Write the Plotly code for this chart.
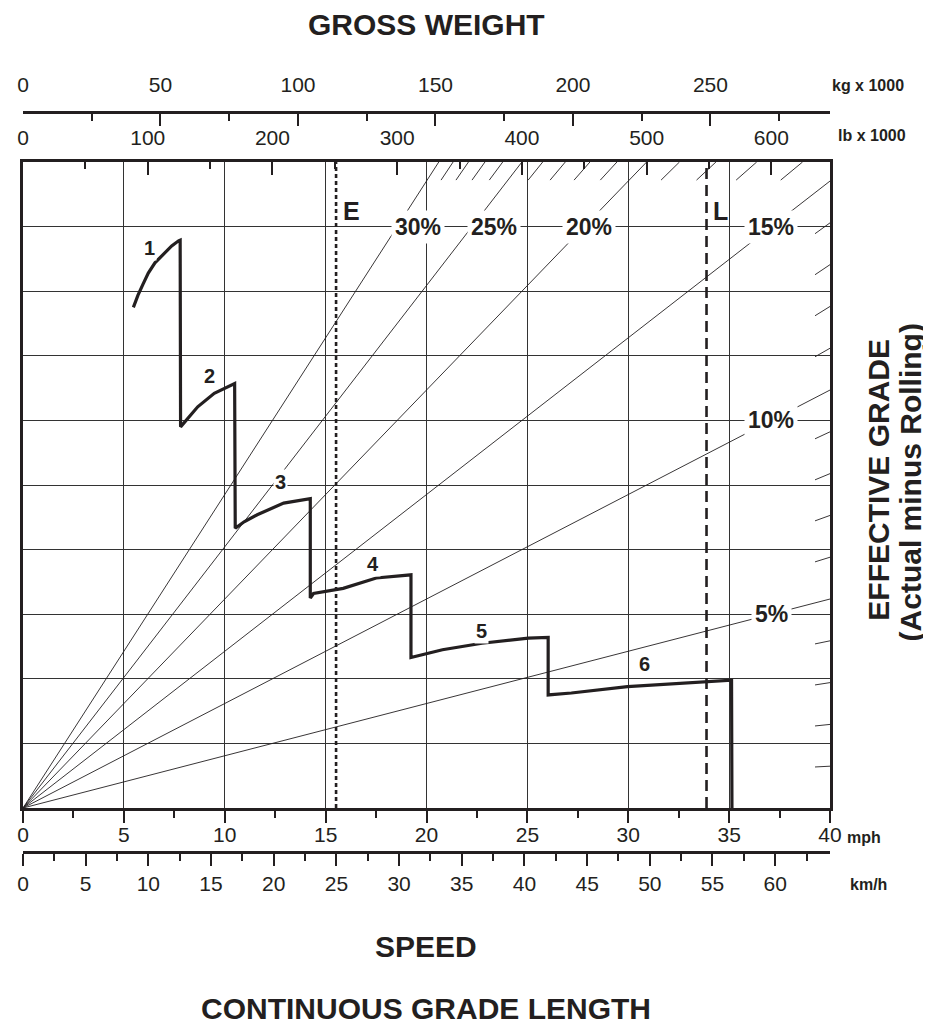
import plotly.graph_objects as go

# ------------------------------------------------------------------ data
MPH_MAX = 40
KMH_PER_MPH = 1.609344
LB_PER_KG = 2.20462
LB_MAX = 647.0            # lb x 1000 at the right edge of the frame
FORCE_MAX = 100           # retarding force scale (lb x 1000), 10 grid rows

kg_ticks = [0, 50, 100, 150, 200, 250]
lb_ticks = [0, 100, 200, 300, 400, 500, 600]
mph_ticks = [0, 5, 10, 15, 20, 25, 30, 35, 40]
kmh_ticks = [0, 5, 10, 15, 20, 25, 30, 35, 40, 45, 50, 55, 60]

grades_labeled = [5, 10, 15, 20, 25, 30]
grade_label_text = ["5%", "10%", "15%", "20%", "25%", "30%"]
grade_label_lb = [600, 600, 600, 454, 378, 317]
grade_label_force = [30, 60, 90, 90, 90, 90]
grades_minor = [1, 2, 3, 4, 6, 7, 8, 9, 11, 12, 13, 14,
                16, 17, 18, 19, 21, 22, 23, 24, 26, 27, 28, 29]

empty_lb = 251
loaded_lb = 548

gear1_mph = [5.47, 5.70, 5.95, 6.21, 6.54, 7.03, 7.37, 7.71, 7.79]
gear1_force = [77.5, 79.4, 81.1, 82.8, 84.4, 85.9, 87.0, 87.8, 87.9]
gear2_mph = [7.81, 8.26, 8.66, 9.48, 9.98, 10.47, 10.49]
gear2_force = [59.0, 60.7, 62.1, 64.2, 65.0, 65.7, 65.7]
gear3_mph = [10.52, 10.96, 11.61, 12.92, 14.24]
gear3_force = [43.3, 44.3, 45.4, 47.2, 47.9]
gear4_mph = [14.24, 14.40, 15.87, 17.51, 19.23]
gear4_force = [32.5, 33.2, 34.0, 35.6, 36.1]
gear5_mph = [19.23, 20.79, 22.75, 25.05, 26.03]
gear5_force = [23.3, 24.5, 25.5, 26.3, 26.4]
gear6_mph = [26.03, 27.18, 29.96, 35.12, 35.14]
gear6_force = [17.5, 17.8, 18.8, 19.8, 0.0]

gear_label_text = ["1", "2", "3", "4", "5", "6"]
gear_label_mph = [6.29, 9.24, 12.76, 17.35, 22.75, 30.81]
gear_label_force = [86.7, 66.8, 50.5, 37.8, 27.4, 22.3]

# ------------------------------------------------------------------ layout helpers
PAGE_OFF = 8                      # default body margin of the page
W_PX, H_PX = 923, 1016
M_L, M_R, M_T, M_B = 9, 101, 30, 60
PLOT_W = W_PX - M_L - M_R
PAPER_H = H_PX - M_T - M_B
PAPER_BOTTOM = PAGE_OFF + H_PX - M_B


def py(yy):
    """screen row -> paper fraction"""
    return (PAPER_BOTTOM - yy) / PAPER_H


def px(xx):
    """screen column -> paper fraction"""
    return (xx - PAGE_OFF - M_L) / PLOT_W


DARK = "#231f20"
TICK_FONT = dict(family="Liberation Sans, Arial, sans-serif", size=21, color=DARK)
BOLD = "Liberation Sans, Arial, Helvetica, sans-serif"

fig = go.Figure()

# grade lines (radiating from origin) on the lb axis
gx, gy = [], []
for g in grades_labeled:
    w_top = FORCE_MAX / (g / 100)
    if w_top <= LB_MAX:
        gx += [0, w_top, None]
        gy += [0, FORCE_MAX, None]
    else:
        gx += [0, LB_MAX, None]
        gy += [0, LB_MAX * g / 100, None]
fig.add_trace(go.Scatter(x=gx, y=gy, xaxis="x3", yaxis="y", mode="lines",
                         line=dict(color=DARK, width=0.9), hoverinfo="skip", showlegend=False))

# 1% hatch marks at the edges
HATCH_F = 2.8
HATCH_W = 12.0
hx, hy = [], []
for g in grades_minor:
    s = g / 100
    w_top = FORCE_MAX / s
    if w_top <= LB_MAX:
        hx += [(FORCE_MAX - HATCH_F) / s, w_top, None]
        hy += [FORCE_MAX - HATCH_F, FORCE_MAX, None]
    else:
        hx += [LB_MAX - HATCH_W, LB_MAX, None]
        hy += [(LB_MAX - HATCH_W) * s, LB_MAX * s, None]
fig.add_trace(go.Scatter(x=hx, y=hy, xaxis="x3", yaxis="y", mode="lines",
                         line=dict(color=DARK, width=0.9), hoverinfo="skip", showlegend=False))

# empty / loaded weight lines
fig.add_trace(go.Scatter(x=[empty_lb, empty_lb], y=[0, FORCE_MAX], xaxis="x3", yaxis="y",
                         mode="lines", line=dict(color=DARK, width=2.6, dash="4px,3px"),
                         hoverinfo="skip", showlegend=False))
fig.add_trace(go.Scatter(x=[loaded_lb, loaded_lb], y=[0, FORCE_MAX], xaxis="x3", yaxis="y",
                         mode="lines", line=dict(color=DARK, width=2.6, dash="11px,6px"),
                         hoverinfo="skip", showlegend=False))

# retarder curve
cx = gear1_mph + gear2_mph + gear3_mph + gear4_mph + gear5_mph + gear6_mph
cy = gear1_force + gear2_force + gear3_force + gear4_force + gear5_force + gear6_force
fig.add_trace(go.Scatter(x=cx, y=cy, xaxis="x", yaxis="y", mode="lines",
                         line=dict(color=DARK, width=3.2), hoverinfo="skip", showlegend=False))

# invisible traces so that the secondary scales (km/h, kg) are drawn
fig.add_trace(go.Scatter(x=[0, MPH_MAX * KMH_PER_MPH], y=[0, 0], xaxis="x2", yaxis="y",
                         mode="markers", marker=dict(opacity=0), hoverinfo="skip", showlegend=False))
fig.add_trace(go.Scatter(x=[0, LB_MAX / LB_PER_KG], y=[0, 0], xaxis="x4", yaxis="y",
                         mode="markers", marker=dict(opacity=0), hoverinfo="skip", showlegend=False))

ann = []
for t, w, f in zip(grade_label_text, grade_label_lb, grade_label_force):
    ann.append(dict(x=w, y=f, xref="x3", yref="y", text="<b>%s</b>" % t, showarrow=False,
                    xanchor="center", yanchor="middle",
                    font=dict(family=BOLD, size=23, color=DARK), bgcolor="white", borderpad=3))
for t, m, f in zip(gear_label_text, gear_label_mph, gear_label_force):
    ann.append(dict(x=m, y=f, xref="x", yref="y", text="<b>%s</b>" % t, showarrow=False,
                    xanchor="center", yanchor="middle",
                    font=dict(family=BOLD, size=20, color=DARK), bgcolor="white", borderpad=1))
ann.append(dict(x=empty_lb, y=92.4, xref="x3", yref="y", text="<b>E</b>", showarrow=False,
                xanchor="left", yanchor="middle", xshift=5, font=dict(family=BOLD, size=25, color=DARK)))
ann.append(dict(x=loaded_lb, y=92.4, xref="x3", yref="y", text="<b>L</b>", showarrow=False,
                xanchor="left", yanchor="middle", xshift=4, font=dict(family=BOLD, size=25, color=DARK)))

# unit labels
for txt, xx, yy in [("kg x 1000", 830, 85), ("lb x 1000", 836, 135),
                    ("mph", 845, 837), ("km/h", 848, 884)]:
    ann.append(dict(x=px(xx), y=py(yy), xref="paper", yref="paper", text="<b>%s</b>" % txt,
                    showarrow=False, xanchor="left", yanchor="middle",
                    font=dict(family=BOLD, size=16, color=DARK)))

# titles
for txt, xx, yy, ang in [("GROSS WEIGHT", 423, 24, 0), ("SPEED", 423, 946, 0),
                         ("CONTINUOUS GRADE LENGTH", 423, 1009, 0),
                         ("EFFECTIVE GRADE", 878, 480, -90),
                         ("(Actual minus Rolling)", 911, 482, -90)]:
    ann.append(dict(x=px(xx), y=py(yy), xref="paper", yref="paper", text="<b>%s</b>" % txt,
                    showarrow=False, xanchor="center", yanchor="middle", textangle=ang,
                    borderpad=0, font=dict(family=BOLD, size=30, color=DARK)))

dom = [py(808), py(162)]
axis_common = dict(showline=True, linecolor=DARK, linewidth=3, zeroline=False,
                   tickcolor=DARK, tickwidth=2, tickfont=TICK_FONT, fixedrange=True)

fig.update_layout(
    width=W_PX, height=H_PX,
    margin=dict(l=M_L, r=M_R, t=M_T, b=M_B),
    paper_bgcolor="white", plot_bgcolor="white",
    showlegend=False,
    annotations=ann,
    xaxis=dict(range=[0, MPH_MAX], anchor="y", side="bottom", tickvals=mph_ticks,
               ticks="outside", ticklen=12, showgrid=True, gridcolor="#333", gridwidth=1.3,
               minor=dict(dtick=2.5, ticks="outside", ticklen=7, tickwidth=2, tickcolor=DARK,
                          showgrid=False),
               ticklabelstandoff=-6, **axis_common),
    xaxis2=dict(range=[0, MPH_MAX * KMH_PER_MPH], overlaying="x", anchor="free",
                position=py(852), side="bottom", tickvals=kmh_ticks, ticks="outside", ticklen=12,
                showgrid=False,
                minor=dict(dtick=2.5, ticks="outside", ticklen=7, tickwidth=2, tickcolor=DARK,
                           showgrid=False),
                ticklabelstandoff=0, **axis_common),
    xaxis3=dict(range=[0, LB_MAX], overlaying="x", anchor="y", side="top", tickvals=lb_ticks,
                ticks="inside", ticklen=13, showgrid=False,
                minor=dict(dtick=50, ticks="inside", ticklen=7, tickwidth=2, tickcolor=DARK,
                           showgrid=False),
                ticklabelstandoff=6, **axis_common),
    xaxis4=dict(range=[0, LB_MAX / LB_PER_KG], overlaying="x", anchor="free",
                position=py(112), side="top", tickvals=kg_ticks, ticks="inside", ticklen=12,
                showgrid=False,
                minor=dict(dtick=25, ticks="inside", ticklen=7, tickwidth=2, tickcolor=DARK,
                           showgrid=False),
                ticklabelstandoff=11, **axis_common),
    yaxis=dict(range=[0, FORCE_MAX], domain=dom, dtick=10, showticklabels=False, ticks="",
               showgrid=True, gridcolor="#333", gridwidth=1.3, showline=True, mirror=True,
               linecolor=DARK, linewidth=3, zeroline=False, fixedrange=True),
)

fig.write_html("out.html")
